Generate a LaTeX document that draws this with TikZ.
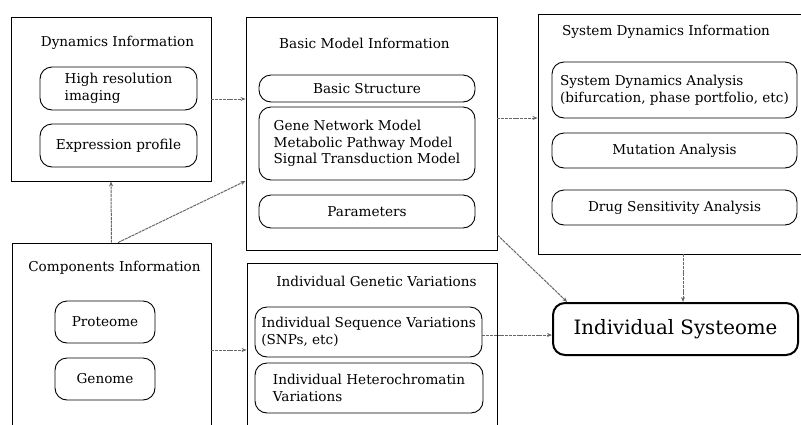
\documentclass[tikz,border=0pt]{standalone}
\usepackage{fontspec}
\setmainfont{DejaVu Serif}
\usetikzlibrary{arrows.meta}
\begin{document}
\begin{tikzpicture}[x=1pt,y=-1pt,
  inbox/.style={draw=black, line width=0.9pt, rounded corners=12pt, inner sep=0pt, font=\fontsize{13.6}{16.5}\selectfont},
  ttl/.style={inner sep=0pt, font=\fontsize{13.6}{16.5}\selectfont},
  conn/.style={draw=black!60, line width=1pt, dash pattern=on 3pt off 0.8pt, -{Stealth[length=5pt,width=4pt]}}
]
\useasboundingbox (0,0) rectangle (801,424);
\clip (0,0) rectangle (801,424);
% outer boxes
\node[draw, line width=0.9pt, minimum width=200pt, minimum height=164pt] (dyn) at (111,99) {};
\node[draw, line width=0.9pt, minimum width=251pt, minimum height=233pt] (basic) at (371.5,133.5) {};
\node[draw, line width=0.9pt, minimum width=268pt, minimum height=240pt] (sys) at (672,134) {};
\node[draw, line width=0.9pt, minimum width=199pt, minimum height=197pt] (comp) at (111.5,341.5) {};
\node[draw, line width=0.9pt, minimum width=250pt, minimum height=177pt] (igv) at (372,351.5) {};
% titles
\node[ttl] (dynt) at (117.5,43) {Dynamics Information};
\node[ttl] (basict) at (364.5,43) {Basic Model Information};
\node[ttl] (syst) at (666,32) {System Dynamics Information};
\node[ttl] (compt) at (114.5,268) {Components Information};
\node[ttl] (igvt) at (376.5,281) {Individual Genetic Variations};
% inner boxes
\node[inbox, minimum width=157pt, minimum height=43pt, align=left] (hri) at (118.5,88.5) {High resolution\\imaging};
\node[inbox, minimum width=157pt, minimum height=43pt] (exp) at (118.5,145.5) {Expression profile};
\node[inbox, minimum width=216pt, minimum height=27pt] (bs) at (367,88.5) {Basic Structure};
\node[inbox, minimum width=216pt, minimum height=73pt, align=left] (gn) at (367,143.5) {Gene Network Model\\Metabolic Pathway Model\\Signal Transduction Model};
\node[inbox, minimum width=216pt, minimum height=33pt] (par) at (367,211.5) {Parameters};
\node[inbox, minimum width=245pt, minimum height=56pt, align=left] (sda) at (674.5,90) {System Dynamics Analysis\\(bifurcation, phase portfolio, etc)};
\node[inbox, minimum width=245pt, minimum height=35pt] (mut) at (674.5,150.5) {Mutation Analysis};
\node[inbox, minimum width=245pt, minimum height=35pt] (drug) at (674.5,207.5) {Drug Sensitivity Analysis};
\node[inbox, minimum width=100pt, minimum height=42pt] (prot) at (105,322) {Proteome};
\node[inbox, minimum width=100pt, minimum height=42pt] (gen) at (105,379) {Genome};
\node[inbox, minimum width=227pt, minimum height=50pt, align=left] (isv) at (368.5,332) {Individual Sequence Variations\\(SNPs, etc)};
\node[inbox, minimum width=228pt, minimum height=50pt, align=left] (ihv) at (369,388) {Individual Heterochromatin\\Variations};
\node[draw=black, line width=2pt, rounded corners=12pt, minimum width=245pt, minimum height=52pt, font=\fontsize{19.8}{22}\selectfont] (systeome) at (675.5,329) {Individual Systeome};
% connectors
\draw[conn] (dyn.east) -- (basic.west |- dyn.east);
\draw[conn] (basic.east |- 0,118) -- (sys.west |- 0,118);
\draw[conn] (comp.north) -- (dyn.south);
\draw[conn] (comp.north -| 118,0) -- (basic.west |- 0,181);
\draw[conn] (basic.east |- 0,235) -- (systeome.166);
\draw[conn] (sys.south -| 683,0) -- (systeome.north -| 683,0);
\draw[conn] (comp.east |- 0,350) -- (igv.west |- 0,350);
\draw[conn] (isv.east |- 0,335) -- (systeome.west |- 0,335);
\end{tikzpicture}
\end{document}
